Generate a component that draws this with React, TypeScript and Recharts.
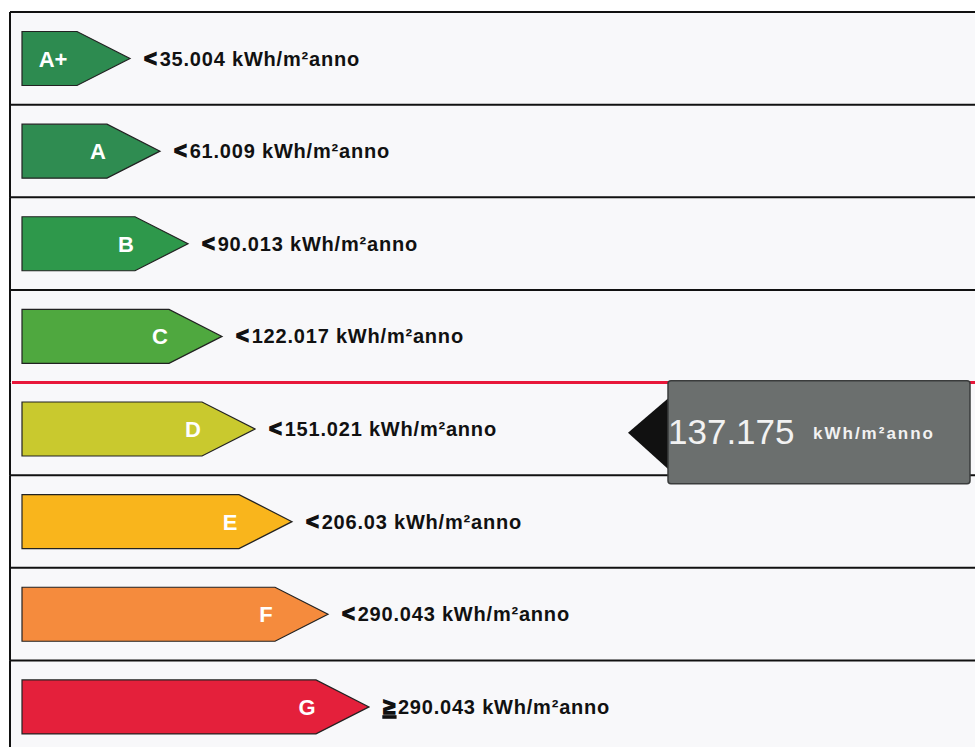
import { BarChart, Bar, XAxis, YAxis, ReferenceLine } from 'recharts'

const classes = ['A+', 'A', 'B', 'C', 'D', 'E', 'F', 'G']
const limits = [35.004, 61.009, 90.013, 122.017, 151.021, 206.03, 290.043, 290.043]
const limitSigns = ['<', '<', '<', '<', '<', '<', '<', '≥']
// arrow length of each class
const arrowLength = [120, 150, 178, 212, 245, 282, 318, 359]
const classColors = ['#2d8b50', '#2f8c51', '#2e984b', '#4fa83f', '#c9c92e', '#f9b51c', '#f58b3d', '#e4203b']

const energyValue = '137.175'
const energyClass = 'D'
const unit = 'kWh/m²anno'

const data = classes.map((cls, i) => ({
  cls,
  limit: limits[i],
  sign: limitSigns[i],
  len: arrowLength[i],
  color: classColors[i],
}))

const PLOT_W = 965
const font = 'Liberation Sans, Arial, sans-serif'

const ArrowRow = (props: any) => {
  const { x, y, width, height, index, payload } = props
  const cy = y + height / 2
  const left = x + 12
  const tip = x + width
  const neck = tip - 53
  const h = 27
  const isRed = payload.cls === energyClass
  const pts = `${left},${cy - h} ${neck},${cy - h} ${tip},${cy} ${neck},${cy + h} ${left},${cy + h}`
  return (
    <g>
      <rect x={x} y={y} width={PLOT_W} height={height} fill='#f8f8fa' />
      <line x1={x} x2={x} y1={y} y2={y + height} stroke='#111' strokeWidth={2} />
      <line
        x1={isRed ? x + 2 : x}
        x2={x + PLOT_W}
        y1={y}
        y2={y}
        stroke={isRed ? '#e8173a' : '#111'}
        strokeWidth={isRed ? 3 : 2}
      />
      <polygon points={pts} fill={payload.color} stroke='#222' strokeWidth={1.2} />
      <text
        x={index === 0 ? tip - 77 : tip - 62}
        y={cy + 8}
        textAnchor='middle'
        fill='#fff'
        fontFamily={font}
        fontWeight='bold'
        fontSize={22}
      >
        {payload.cls}
      </text>
      <text x={tip + 14} y={cy + 7} fill='#111' fontFamily={font} fontWeight='bold' fontSize={20} letterSpacing={0.8}>
        <tspan
          fontSize={22}
          stroke='#111'
          strokeWidth={1.4}
          textDecoration={payload.sign === '≥' ? 'underline' : undefined}
        >
          {payload.sign}
        </tspan>
        <tspan dx={2}>{`${payload.limit} ${unit}`}</tspan>
      </text>
    </g>
  )
}

const Indicator = (props: any) => {
  const cy = props.y1 ?? 428
  return (
    <g>
      <polygon points={`628,${cy + 4} 670,${cy - 32} 670,${cy + 42}`} fill='#111' />
      <rect x={668} y={cy - 48} width={302} height={103} rx={3} fill='#6b6f6e' stroke='#3a3c3c' strokeWidth={1.5} />
      <text x={668} y={cy + 15} fill='#f2f2f2' fontFamily={font} fontSize={35}>
        {energyValue}
      </text>
      <text x={813} y={cy + 10} fill='#f2f2f2' fontFamily={font} fontWeight='bold' fontSize={17} letterSpacing={2}>
        {unit}
      </text>
    </g>
  )
}

const App = () => {
  return (
    <div style={{ position: 'absolute', left: 0, top: 0, width: 975, height: 747, overflow: 'hidden', background: '#fff' }}>
      <BarChart
        width={975}
        height={753}
        data={data}
        layout='vertical'
        margin={{ top: 12, right: 0, left: 10, bottom: 0 }}
        barCategoryGap={0}
      >
        <XAxis type='number' domain={[0, PLOT_W]} hide />
        <YAxis type='category' dataKey='cls' hide />
        <Bar dataKey='len' shape={ArrowRow} isAnimationActive={false} />
        <ReferenceLine y={energyClass} stroke='none' shape={Indicator} ifOverflow='visible' />
      </BarChart>
    </div>
  )
}

export default App
